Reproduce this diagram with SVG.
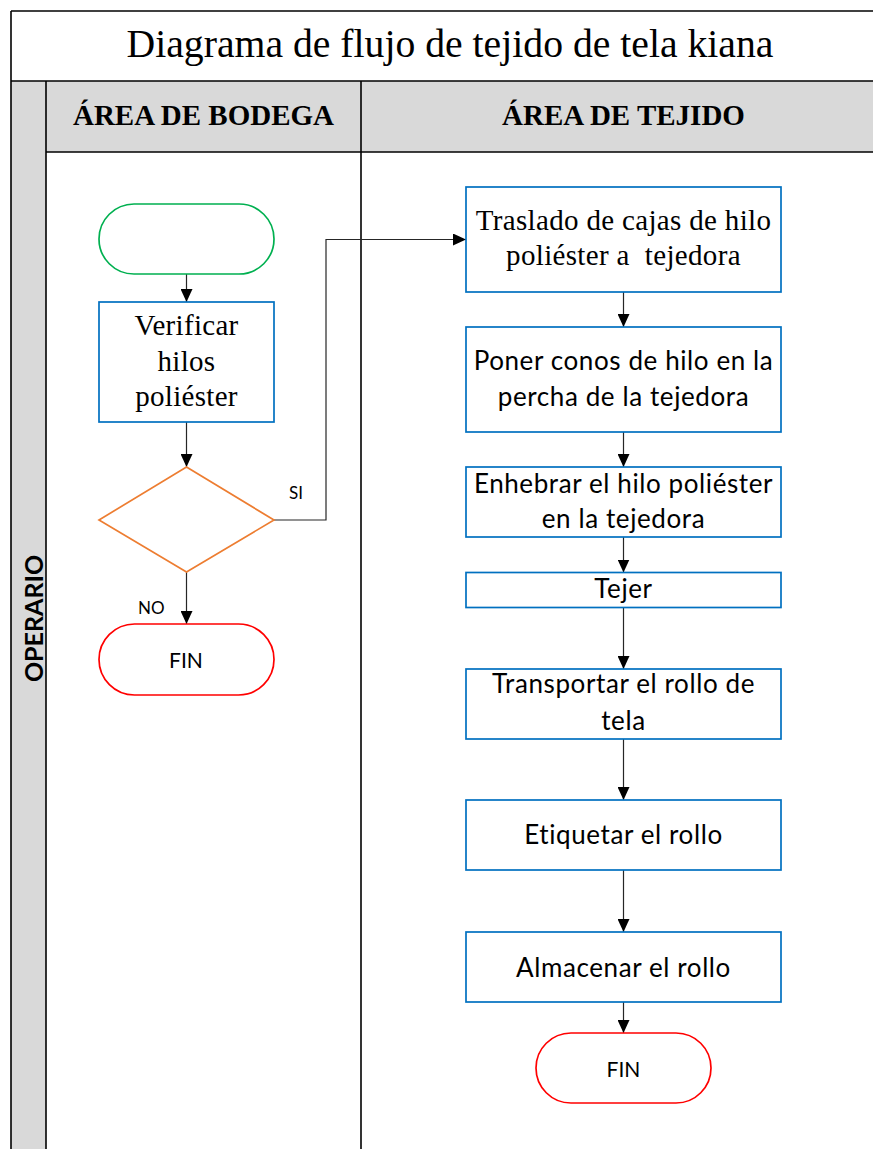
<svg xmlns="http://www.w3.org/2000/svg" width="873" height="1149" viewBox="0 0 873 1149">
  <defs>
    <style>
      .line{stroke:#000;stroke-width:1.6;fill:none}
      .lane{fill:#D9D9D9;stroke:none}
      .proc{fill:#fff;stroke:#0070C0;stroke-width:1.7}
      .start{fill:#fff;stroke:#00B050;stroke-width:1.7}
      .end{fill:#fff;stroke:#FF0000;stroke-width:1.7}
      .dec{fill:#fff;stroke:#ED7D31;stroke-width:1.7}
      .serif{font-family:"Liberation Serif","Times New Roman",serif;fill:#000}
      .sans{font-family:Lato,"Noto Sans",sans-serif;fill:#000}
      .mid{text-anchor:middle}
      .step{font-size:26px;letter-spacing:0.6px}
      .conn{stroke:#262626;stroke-width:1.2;fill:none;marker-end:url(#arrow)}
    </style>
    <marker id="arrow" viewBox="0 0 13 12" refX="13" refY="6" markerWidth="13" markerHeight="12" markerUnits="userSpaceOnUse" orient="auto">
      <path d="M0,0 L13,6 L0,12 Z" fill="#000"/>
    </marker>
  </defs>

  <!-- swimlane frame -->
  <g id="frame">
    <rect x="0" y="0" width="873" height="1149" fill="#fff"/>
    <rect class="lane" x="11" y="81" width="35" height="1068"/>
    <rect class="lane" x="46" y="81" width="827" height="71"/>
    <line class="line" x1="11" y1="11" x2="873" y2="11"/>
    <line class="line" x1="11" y1="11" x2="11" y2="1149"/>
    <line class="line" x1="11" y1="81" x2="873" y2="81"/>
    <line class="line" x1="46" y1="81" x2="46" y2="1149"/>
    <line class="line" x1="46" y1="152" x2="873" y2="152"/>
    <line class="line" x1="361" y1="81" x2="361" y2="1149"/>
    <text class="serif mid" x="450" y="57" font-size="39.7">Diagrama de flujo de tejido de tela kiana</text>
    <text class="serif mid" x="203.5" y="125" font-size="29" font-weight="bold">ÁREA DE BODEGA</text>
    <text class="serif mid" x="623.5" y="125" font-size="29" font-weight="bold">ÁREA DE TEJIDO</text>
    <text class="sans mid" transform="translate(43 618.5) rotate(-90)" font-size="25" font-weight="bold">OPERARIO</text>
  </g>

  <!-- connectors -->
  <g id="connectors">
    <line class="conn" x1="186.5" y1="274" x2="186.5" y2="302"/>
    <line class="conn" x1="186.5" y1="422" x2="186.5" y2="467"/>
    <polyline class="conn" points="274,520 326,520 326,239.5 466,239.5"/>
    <line class="conn" x1="186.5" y1="572" x2="186.5" y2="624"/>
    <line class="conn" x1="623.5" y1="292" x2="623.5" y2="327"/>
    <line class="conn" x1="623.5" y1="432" x2="623.5" y2="467"/>
    <line class="conn" x1="623.5" y1="537" x2="623.5" y2="572.5"/>
    <line class="conn" x1="623.5" y1="607.5" x2="623.5" y2="669"/>
    <line class="conn" x1="623.5" y1="739" x2="623.5" y2="800"/>
    <line class="conn" x1="623.5" y1="870" x2="623.5" y2="932"/>
    <line class="conn" x1="623.5" y1="1002" x2="623.5" y2="1033"/>
    <text class="sans" x="289" y="499" font-size="17">SI</text>
    <text class="sans" x="138" y="614" font-size="17">NO</text>
  </g>

  <g id="start">
    <rect class="start" x="99" y="204" width="175" height="70" rx="35"/>
  </g>

  <g id="verificar">
    <rect class="proc" x="99" y="302" width="175" height="120"/>
    <text class="serif mid" x="186.5" y="335" font-size="29" letter-spacing="0.3">Verificar</text>
    <text class="serif mid" x="186.5" y="370.5" font-size="29" letter-spacing="0.3">hilos</text>
    <text class="serif mid" x="186.5" y="406" font-size="29" letter-spacing="0.3">poliéster</text>
  </g>

  <g id="decision">
    <polygon class="dec" points="186.5,467 274,520 186.5,572 99,520"/>
  </g>

  <g id="fin-bodega">
    <rect class="end" x="99" y="624" width="175" height="71" rx="35.5"/>
    <text class="sans mid" x="186" y="668" font-size="21">FIN</text>
  </g>

  <g id="traslado">
    <rect class="proc" x="466" y="187" width="315" height="105"/>
    <text class="serif mid" x="623.5" y="230" font-size="29" letter-spacing="0.33">Traslado de cajas de hilo</text>
    <text class="serif mid" x="623.5" y="265" font-size="29" letter-spacing="0.33" xml:space="preserve">poliéster a  tejedora</text>
  </g>

  <g id="poner-conos">
    <rect class="proc" x="466" y="327" width="315" height="105"/>
    <text class="sans mid step" x="623.5" y="370">Poner conos de hilo en la</text>
    <text class="sans mid step" x="623.5" y="406">percha de la tejedora</text>
  </g>

  <g id="enhebrar">
    <rect class="proc" x="466" y="467" width="315" height="70"/>
    <text class="sans mid step" x="623.5" y="493">Enhebrar el hilo poliéster</text>
    <text class="sans mid step" x="623.5" y="528">en la tejedora</text>
  </g>

  <g id="tejer">
    <rect class="proc" x="466" y="572.5" width="315" height="35"/>
    <text class="sans mid step" x="623.5" y="598">Tejer</text>
  </g>

  <g id="transportar">
    <rect class="proc" x="466" y="669" width="315" height="70"/>
    <text class="sans mid step" x="623.5" y="693">Transportar el rollo de</text>
    <text class="sans mid step" x="623.5" y="730">tela</text>
  </g>

  <g id="etiquetar">
    <rect class="proc" x="466" y="800" width="315" height="70"/>
    <text class="sans mid step" x="623.5" y="844">Etiquetar el rollo</text>
  </g>

  <g id="almacenar">
    <rect class="proc" x="466" y="932" width="315" height="70"/>
    <text class="sans mid step" x="623.5" y="977" letter-spacing="0.8">Almacenar el rollo</text>
  </g>

  <g id="fin-tejido">
    <rect class="end" x="536" y="1033" width="175" height="70" rx="35"/>
    <text class="sans mid" x="623.5" y="1077" font-size="21">FIN</text>
  </g>
</svg>
